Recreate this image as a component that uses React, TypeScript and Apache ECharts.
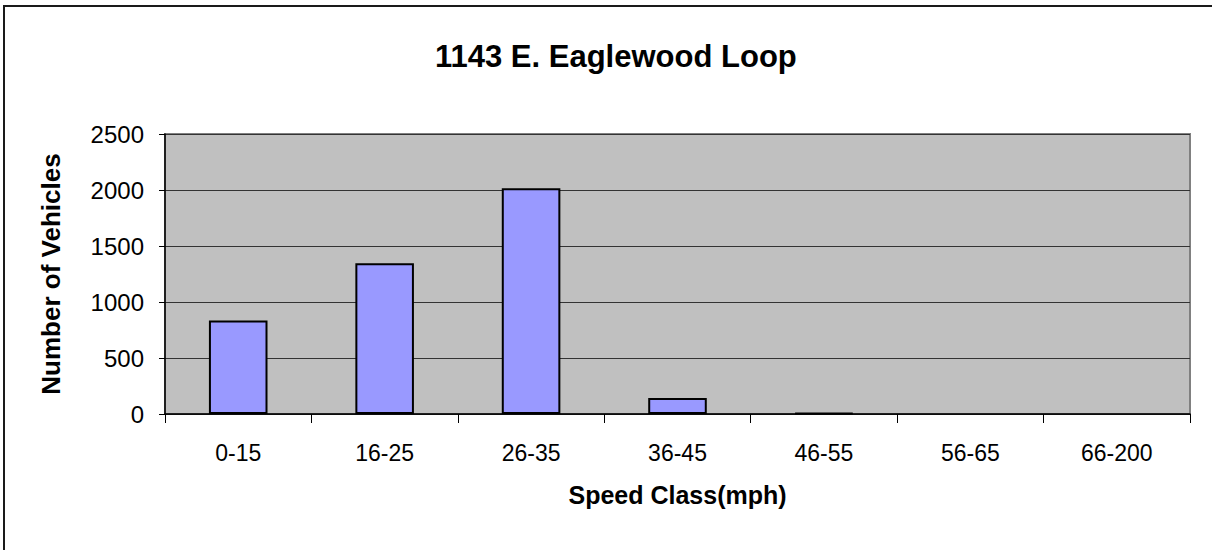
import React, { useEffect, useRef } from "react";
import * as echarts from "echarts";

const TITLE = "1143 E. Eaglewood Loop";
const categories = ["0-15", "16-25", "26-35", "36-45", "46-55", "56-65", "66-200"];
const vehicles = [835, 1345, 2015, 143, 8, 0, 0];
const yTicks = { min: 0, max: 2500, interval: 500 };
const xName = "Speed Class(mph)";
const yName = "Number of Vehicles";

const FONT = "'Liberation Sans', Arial, sans-serif";

export default function App() {
  const ref = useRef<HTMLDivElement>(null);
  useEffect(() => {
    if (!ref.current) return;
    const chart = echarts.init(ref.current, null, { renderer: "svg" });
    chart.setOption({
      animation: false,
      backgroundColor: "#ffffff",
      title: {
        text: TITLE,
        left: 430,
        top: 36,
        textStyle: { fontFamily: FONT, fontSize: 31, fontWeight: "bold", color: "#000" },
      },
      grid: {
        left: 165,
        top: 134,
        right: 22,
        bottom: 136,
        show: true,
        backgroundColor: "#c0c0c0",
        borderColor: "#808080",
        borderWidth: 2,
      },
      xAxis: {
        type: "category",
        data: categories,
        name: xName,
        nameLocation: "middle",
        nameGap: 68,
        nameTextStyle: { fontFamily: FONT, fontSize: 25, fontWeight: "bold", color: "#000" },
        axisLine: { lineStyle: { color: "#000", width: 1.5 } },
        axisTick: { show: true, length: 9, alignWithLabel: false, lineStyle: { color: "#000" } },
        axisLabel: { fontFamily: FONT, fontSize: 23, color: "#000", margin: 27 },
      },
      yAxis: {
        type: "value",
        min: yTicks.min,
        max: yTicks.max,
        interval: yTicks.interval,
        name: yName,
        nameLocation: "middle",
        nameGap: 101,
        nameTextStyle: { fontFamily: FONT, fontSize: 26, fontWeight: "bold", color: "#000" },
        axisLine: { show: true, lineStyle: { color: "#000", width: 1.5 } },
        axisTick: { show: true, inside: false, length: 6, lineStyle: { color: "#000" } },
        axisLabel: {
          fontFamily: FONT,
          fontSize: 24,
          color: "#000",
          margin: 21,
          formatter: (v: number) => String(v),
        },
        splitLine: { show: true, lineStyle: { color: "#333", width: 1 } },
      },
      series: [
        {
          type: "bar",
          data: vehicles.map((v) => ({
            value: v,
            itemStyle: v === 0 ? { borderWidth: 0 } : undefined,
          })),
          barWidth: "40%",
          itemStyle: { color: "#9999ff", borderColor: "#000", borderWidth: 2 },
        },
      ],
      graphic: [
        {
          type: "rect",
          shape: { x: 4, y: 6, width: 1240, height: 580 },
          style: { fill: "none", stroke: "#1a1a1a", lineWidth: 2 },
          silent: true,
          z: 100,
        },
      ],
    });
    return () => chart.dispose();
  }, []);
  return (
    <div
      ref={ref}
      style={{ position: "absolute", left: 0, top: 0, width: 1212, height: 550 }}
    />
  );
}
